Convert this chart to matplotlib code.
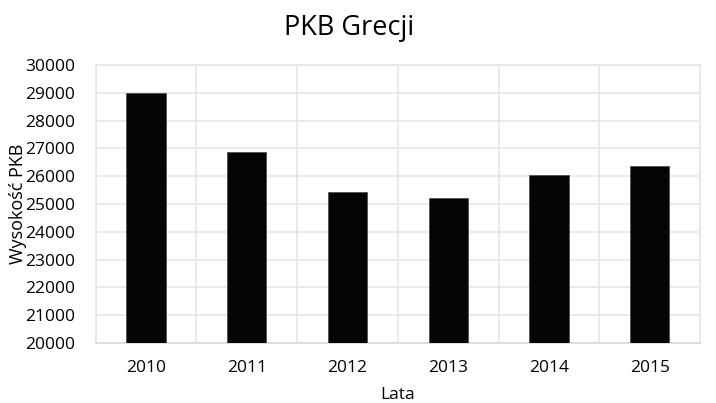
import matplotlib.pyplot as plt
import numpy as np

lata = ['2010', '2011', '2012', '2013', '2014', '2015']
pkb = [28980, 26860, 25420, 25210, 26040, 26360]

plt.rcParams['font.family'] = ['Open Sans', 'DejaVu Sans']

fig = plt.figure(figsize=(7.16, 4.03), dpi=100)
ax = fig.add_axes([0.1337, 0.149, 0.844, 0.6897])

x = np.arange(len(lata))
ax.bar(x, pkb, width=0.39, color='#050505', edgecolor='#505050', linewidth=0.6, zorder=3)

ax.set_xlim(-0.5, len(lata) - 0.5)
ax.set_ylim(20000, 30000)
ax.set_yticks(range(20000, 30001, 1000))
ax.set_xticks(x)
ax.set_xticklabels(lata)
ax.set_xticks(np.arange(-0.5, len(lata), 1), minor=True)

ax.grid(True, which='major', axis='y', color='#e6e6e6', linewidth=1.2, zorder=0)
ax.grid(True, which='minor', axis='x', color='#e6e6e6', linewidth=1.2, zorder=0)
ax.tick_params(which='both', length=0, labelsize=12.5, labelcolor='#000000')
ax.tick_params(axis='x', pad=12)
ax.tick_params(axis='y', pad=15)

for s in ax.spines.values():
    s.set_color('#e6e6e6')
    s.set_linewidth(1.2)
ax.spines['bottom'].set_color('#d9d9d9')

fig.text(0.488, 0.93, 'PKB Grecji', fontsize=19.5, ha='center', va='center')
ax.set_xlabel('Lata', fontsize=12.5)
ax.set_ylabel('Wysokość PKB', fontsize=13)
ax.xaxis.set_label_coords(0.5, -0.187)
ax.yaxis.set_label_coords(-0.129, 0.5)
ax.xaxis.label.set_va('center')
ax.yaxis.label.set_va('center')

plt.savefig('out.png', dpi=100)
